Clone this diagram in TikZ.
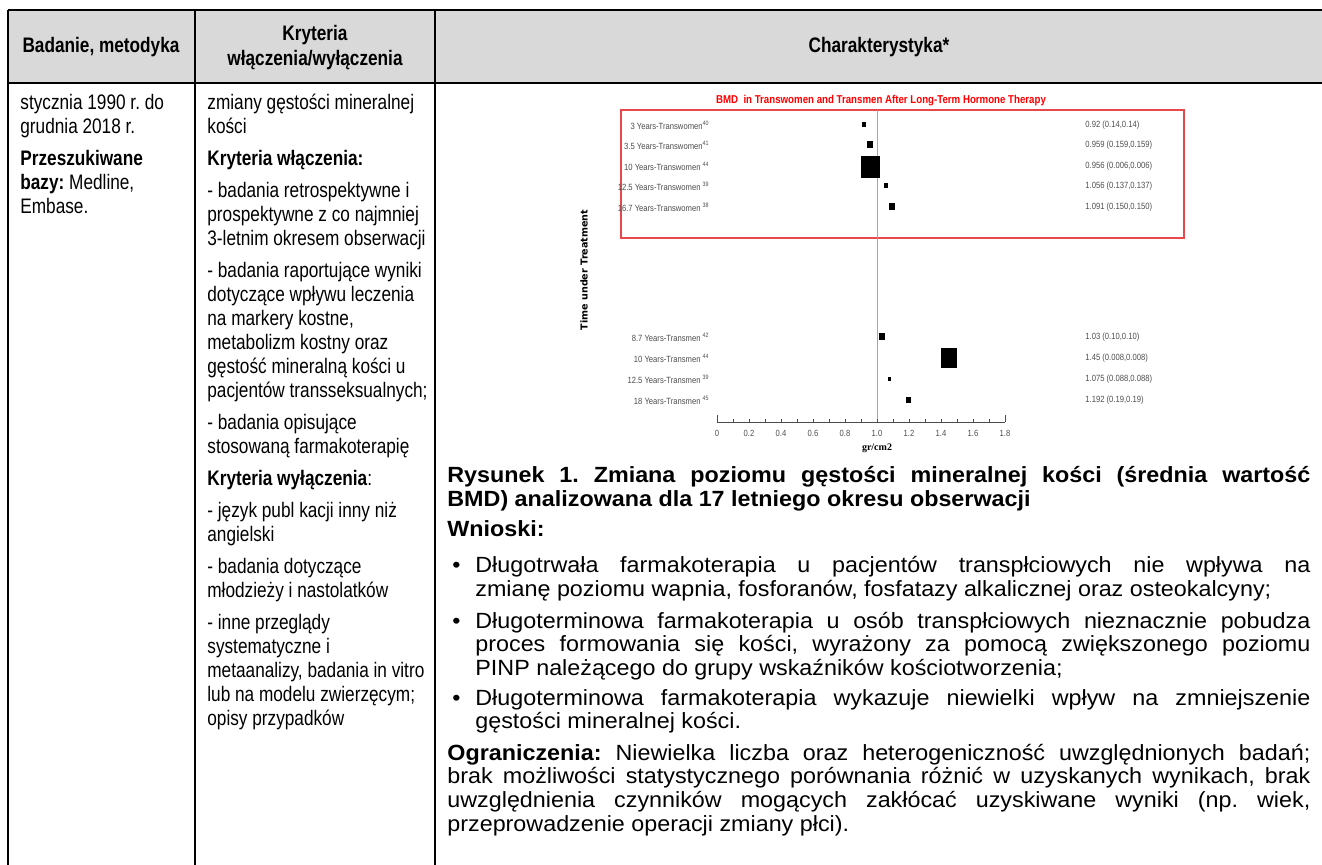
\documentclass[tikz,border=0pt]{standalone}
\usepackage{fontspec}
\setmainfont[FakeStretch=0.82]{Liberation Sans}
\newfontfamily\widefont[FakeStretch=1.06]{Liberation Sans}
\newfontfamily\chartfont[FakeStretch=0.85]{Liberation Sans}
\newfontfamily\axisfont{Liberation Serif}
\newfontfamily\timefont{DejaVu Sans}
\usepackage{xcolor}
\usetikzlibrary{positioning}
\frenchspacing
\definecolor{headgray}{HTML}{D9D9D9}
\definecolor{chartgray}{HTML}{4D4D4D}
\definecolor{framered}{HTML}{E8474C}
\tikzstyle{rule}      = [line width=0.75pt, black]
\tikzstyle{headtxt}   = [inner sep=0pt, align=center, font=\bfseries\fontsize{10.5}{12.5}\selectfont]
\tikzstyle{cell}      = [inner sep=0pt, anchor=base west, align=flush left, font=\fontsize{10.5}{12}\selectfont]
\tikzstyle{widecell}  = [inner sep=0pt, anchor=base west, align=justify, font=\widefont\fontsize{11}{11.85}\selectfont]
\tikzstyle{lbl}       = [inner sep=0pt, anchor=east, text=chartgray, font=\chartfont\fontsize{4.5}{5}\selectfont]
\tikzstyle{val}       = [inner sep=0pt, anchor=west, text=chartgray, font=\chartfont\fontsize{4.5}{5}\selectfont]
\tikzstyle{box}       = [inner sep=0pt, fill=black, draw=none]

\begin{document}
\begin{tikzpicture}[x=0.5pt,y=-0.5pt]
    \useasboundingbox (0,0) rectangle (1322,865);

    % table frame
    \fill[headgray] (8,10) rectangle (1322,83);
    \draw[rule] (8,10) -- (1322,10);
    \draw[rule, line width=1.1pt] (8,83) -- (1322,83);
    \draw[rule] (8,10) -- (8,865);
    \draw[rule] (195,10) -- (195,865);
    \draw[rule] (435,10) -- (435,865);

    % headers
    \node[headtxt] (hmet) at (101,47) {Badanie, metodyka};
    \node[headtxt] (hkry) at (315,48) {Kryteria\\włączenia/wyłączenia};
    \node[headtxt] (hcha) at (879,47) {Charakterystyka*};

    % first column
    \node[cell, text width=85pt] (metoda) at (20,110) {stycznia 1990 r. do\\grudnia 2018 r.\\[4pt]
        \textbf{Przeszukiwane}\\\textbf{bazy:} Medline,\\Embase.};

    % second column
    \node[cell, text width=125pt] (kryteria) at (207,110) {zmiany gęstości mineralnej\\
        kości\\[4pt]
        \textbf{Kryteria włączenia:}\\[4pt]
        - badania retrospektywne i\\
        prospektywne z co najmniej\\
        3-letnim okresem obserwacji\\[4pt]
        - badania raportujące wyniki\\
        dotyczące wpływu leczenia\\
        na markery kostne,\\
        metabolizm kostny oraz\\
        gęstość mineralną kości u\\
        pacjentów transseksualnych;\\[4pt]
        - badania opisujące\\
        stosowaną farmakoterapię\\[4pt]
        \textbf{Kryteria wyłączenia}:\\[4pt]
        - język publ kacji inny niż\\
        angielski\\[4pt]
        - badania dotyczące\\
        młodzieży i nastolatków\\[4pt]
        - inne przeglądy\\
        systematyczne i\\
        metaanalizy, badania in vitro\\
        lub na modelu zwierzęcym;\\
        opisy przypadków};

    % forest plot
    \node[inner sep=0pt, font=\chartfont\bfseries\fontsize{5.7}{6}\selectfont, text=red] (ptitle) at (881,103)
        {\underline{BMD\ \ in Transwomen and Transmen After Long-Term Hormone Therapy}};
    \draw[framered, line width=0.8pt] (621,110) rectangle (1184,238);
    \draw[gray!70, line width=0.5pt] (877,110) -- (877,422);
    \node[inner sep=0pt, rotate=90, font=\timefont\bfseries\fontsize{4.8}{6}\selectfont] (ptime) at (584,270) {Time under Treatment};

    \node[lbl] (w1) at (710,125) {3 Years-Transwomen\textsuperscript{40}};
    \node[lbl] (w2) at (710,145) {3.5 Years-Transwomen\textsuperscript{41}};
    \node[lbl] (w3) at (710,166) {10 Years-Transwomen \textsuperscript{44}};
    \node[lbl] (w4) at (710,186) {12.5 Years-Transwomen \textsuperscript{39}};
    \node[lbl] (w5) at (710,207) {16.7 Years-Transwomen \textsuperscript{38}};
    \node[lbl] (m1) at (710,337) {8.7 Years-Transmen \textsuperscript{42}};
    \node[lbl] (m2) at (710,358) {10 Years-Transmen \textsuperscript{44}};
    \node[lbl] (m3) at (710,379) {12.5 Years-Transmen \textsuperscript{39}};
    \node[lbl] (m4) at (710,400) {18 Years-Transmen \textsuperscript{45}};

    \node[box, minimum width=2pt, minimum height=2.5pt] (bw1) at (864,125) {};
    \node[box, minimum width=3pt, minimum height=3.5pt] (bw2) at (870,145) {};
    \node[box, minimum width=9.5pt, minimum height=11pt] (bw3) at (870,167) {};
    \node[box, minimum width=2pt, minimum height=2.5pt] (bw4) at (886,186) {};
    \node[box, minimum width=3pt, minimum height=3.5pt] (bw5) at (892,207) {};
    \node[box, minimum width=3pt, minimum height=3.5pt] (bm1) at (882,337) {};
    \node[box, minimum width=8pt, minimum height=10pt] (bm2) at (949,358) {};
    \node[box, minimum width=1.5pt, minimum height=2pt] (bm3) at (889,379) {};
    \node[box, minimum width=2.5pt, minimum height=3pt] (bm4) at (908,400) {};

    \node[val] (vw1) at (1085,125) {0.92 (0.14,0.14)};
    \node[val] (vw2) at (1085,145) {0.959 (0.159,0.159)};
    \node[val] (vw3) at (1085,166) {0.956 (0.006,0.006)};
    \node[val] (vw4) at (1085,186) {1.056 (0.137,0.137)};
    \node[val] (vw5) at (1085,207) {1.091 (0.150,0.150)};
    \node[val] (vm1) at (1085,337) {1.03 (0.10,0.10)};
    \node[val] (vm2) at (1085,358) {1.45 (0.008,0.008)};
    \node[val] (vm3) at (1085,379) {1.075 (0.088,0.088)};
    \node[val] (vm4) at (1085,400) {1.192 (0.19,0.19)};

    % axis
    \draw[chartgray, line width=0.4pt] (717,422) -- (1005,422);
    \foreach \i in {0,...,18}
        \draw[chartgray, line width=0.4pt] (717+16*\i,422) -- ++(0,-3);
    \draw[chartgray, line width=0.4pt] (717,422) -- ++(0,-7);
    \draw[chartgray, line width=0.4pt] (1005,422) -- ++(0,-7);
    \foreach \i/\t in {0/0,2/0.2,4/0.4,6/0.6,8/0.8,10/1.0,12/1.2,14/1.4,16/1.6,18/1.8}
        \node[val, anchor=center] (tick\i) at (717+16*\i,433) {\t};
    \node[inner sep=0pt, font=\axisfont\bfseries\fontsize{5}{6}\selectfont] (punit) at (877,448) {gr/cm2};

    % third column text
    \node[widecell, text width=431.5pt] (caption) at (447,483) {\sloppy\textbf{Rysunek 1. Zmiana poziomu gęstości mineralnej kości (średnia wartość\linebreak
        BMD) analizowana dla 17 letniego okresu obserwacji}};
    \node[widecell, text width=431.5pt] (wnioski) at (447,537) {\textbf{Wnioski:}};

    \node[widecell] (dot1) at (452,573) {•};
    \node[widecell, text width=417.5pt] (wn1) at (475,573) {\sloppy Długotrwała farmakoterapia u pacjentów transpłciowych nie wpływa na\linebreak
        zmianę poziomu wapnia, fosforanów, fosfatazy alkalicznej oraz osteokalcyny;};
    \node[widecell] (dot2) at (452,628) {•};
    \node[widecell, text width=417.5pt] (wn2) at (475,628) {\sloppy Długoterminowa farmakoterapia u osób transpłciowych nieznacznie pobudza\linebreak
        proces formowania się kości, wyrażony za pomocą zwiększonego poziomu\linebreak
        PINP należącego do grupy wskaźników kościotworzenia;};
    \node[widecell] (dot3) at (452,705) {•};
    \node[widecell, text width=417.5pt] (wn3) at (475,705) {\sloppy Długoterminowa farmakoterapia wykazuje niewielki wpływ na zmniejszenie\linebreak
        gęstości mineralnej kości.};

    \node[widecell, text width=431.5pt] (ogr) at (447,760) {\sloppy\textbf{Ograniczenia:} Niewielka liczba oraz heterogeniczność uwzględnionych badań;\linebreak
        brak możliwości statystycznego porównania różnić w uzyskanych wynikach, brak\linebreak
        uwzględnienia czynników mogących zakłócać uzyskiwane wyniki (np. wiek,\linebreak
        przeprowadzenie operacji zmiany płci).};
\end{tikzpicture}
\end{document}
